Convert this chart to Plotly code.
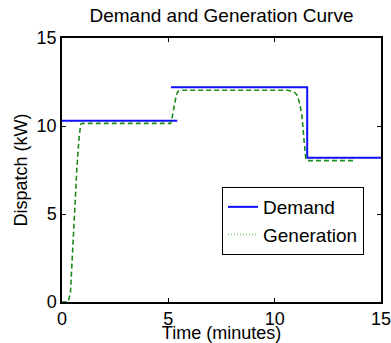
import plotly.graph_objects as go

# Demand (step profile)
demand_t = [0, 5.08, 5.08, 5.42, None, 5.12, 11.53, 11.53, 15]
demand_kw = [10.3, 10.3, 10.3, 10.3, None, 12.2, 12.2, 8.2, 8.2]

# Generation (ramping response)
gen_t = [0, 0.3, 0.4, 0.5, 0.58, 0.7, 0.8, 0.88, 0.95, 5.1, 5.15, 5.25, 5.35,
         5.42, 5.5, 5.6, 10.6, 10.8, 10.95, 11.05, 11.15, 11.22, 11.28, 11.38,
         11.47, 11.55, 13.7]
gen_kw = [0, 0, 0.6, 3.0, 5.2, 7.6, 9.3, 10.1, 10.15, 10.15, 10.3, 11.0, 11.6,
          11.9, 12.0, 12.03, 12.03, 11.98, 11.9, 11.75, 11.4, 11.0, 10.6, 9.2,
          8.1, 8.03, 8.03]

x_ticks = [0, 5, 10, 15]
y_ticks = [0, 5, 10, 15]

font = "Liberation Sans, Arial, sans-serif"

fig = go.Figure()
fig.add_trace(go.Scatter(x=demand_t, y=demand_kw, mode="lines", name="Demand",
                         line=dict(color="#1010ff", width=2), connectgaps=False))
fig.add_trace(go.Scatter(x=gen_t, y=gen_kw, mode="lines", name="Generation",
                         line=dict(color="#1a8a1a", width=1.6, dash="5px,3px"),
                         showlegend=False))
fig.add_trace(go.Scatter(x=[None], y=[None], mode="lines", name="Generation",
                         line=dict(color="#8fcf8f", width=2, dash="1px,2px")))

axis_common = dict(showline=True, linecolor="black", linewidth=1.5, mirror="ticks",
                   ticks="inside", ticklen=4, tickcolor="black", showgrid=False,
                   zeroline=False, ticklabeloverflow="allow",
                   tickfont=dict(size=18, color="black", family=font))

fig.update_layout(
    width=391, height=343,
    margin=dict(l=62, r=10, t=38, b=41),
    paper_bgcolor="white", plot_bgcolor="white",
    font=dict(family=font, color="black"),
    title=dict(text="Demand and Generation Curve", x=(62 + 381) / 2 / 391, xanchor="center",
               y=1 - 15 / 343, yanchor="middle", font=dict(size=19, color="black")),
    xaxis=dict(range=[0, 15], tickvals=x_ticks, ticktext=[str(v) for v in x_ticks],
               title=dict(text="Time (minutes)", font=dict(size=18), standoff=0),
               automargin=False, **axis_common),
    yaxis=dict(range=[0, 15], tickvals=y_ticks, ticktext=[str(v) for v in y_ticks],
               title=dict(text="Dispatch (kW)", font=dict(size=18), standoff=4),
               automargin=False, **axis_common),
    legend=dict(x=0.5016, y=0.4356, xanchor="left", yanchor="top",
                bgcolor="white", bordercolor="black", borderwidth=1,
                font=dict(size=19, color="black", family=font),
                itemwidth=30, tracegroupgap=0),
    showlegend=True,
)

fig.write_html("out.html", config={"displayModeBar": False},
               post_script="document.body.style.margin='0';")
